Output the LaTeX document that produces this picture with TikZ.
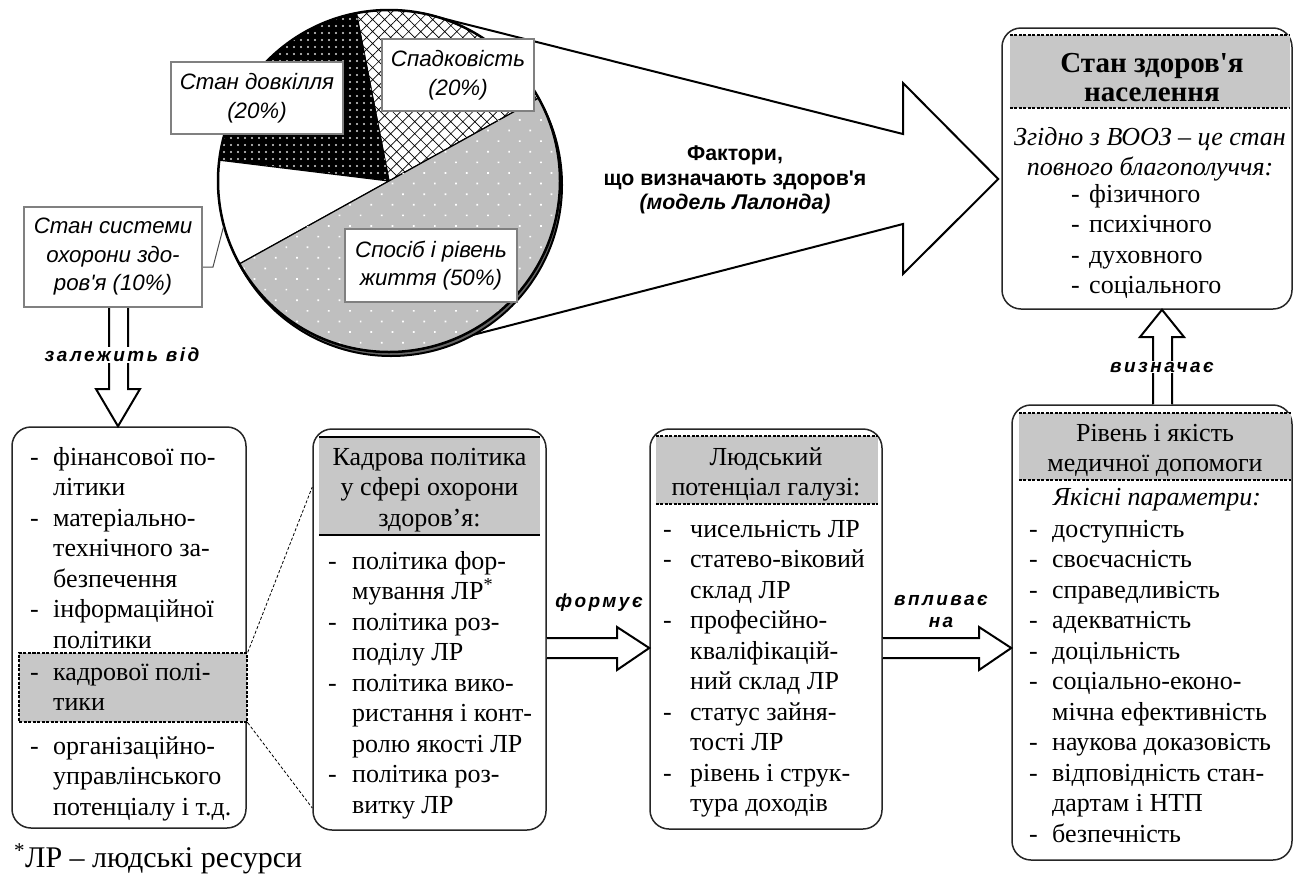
\documentclass[tikz,border=0pt]{standalone}
\usepackage{fontspec}
\setmainfont{Liberation Serif}
\setsansfont{Liberation Sans}
\newfontfamily\spaced[LetterSpace=13]{Liberation Sans}
\newfontfamily\factsans{Liberation Sans}
\newfontfamily\rmplain{Liberation Serif}
\usetikzlibrary{calc,patterns.meta}

\newcommand\boxfont{\fontsize{26}{30.5}\selectfont}
\newcommand\piefont{\fontsize{22.3}{28.5}\selectfont\sffamily\itshape}
\newcommand\verbfont{\fontsize{19}{22}\selectfont\spaced\bfseries\itshape}
\newcommand\factfont{\fontsize{21.3}{24.5}\selectfont\factsans\bfseries}
\newcommand\rmapos{{\rmplain'}}
\newcommand\sfapos{{\factsans'}}

\tikzset{box/.style = {draw=black!85, line width=1.5pt, rounded corners=19pt, fill=white},
         plab/.style = {draw=black!50, line width=2pt, fill=white, align=center, font=\piefont, inner sep=0pt},
         lst/.style = {anchor=base west, inner sep=0pt, font=\boxfont},
         hdr/.style = {anchor=base, inner sep=0pt, font=\boxfont},
         band/.style = {fill=black!22, inner sep=0pt},
         dotl/.style = {line width=1.5pt, dash pattern=on 3pt off 1.5pt},
         blk/.style = {draw=black, line width=2pt, fill=white, line join=miter},
         vlab/.style = {font=\verbfont, fill=white, inner sep=1pt}}

\begin{document}
\begin{tikzpicture}[x=1pt, y=-1pt]
  \useasboundingbox (0,0) rectangle (1295,873);

  % pie geometry
  \begin{scope}[shift={(389,181)}, y=1pt]
    \coordinate (pc) at (0,0);
    \coordinate (fu) at (78.6:171);
    \coordinate (fl) at (-69.4:171);
    \coordinate (sysp) at (195.6:172);
  \end{scope}

  % boxes
  \node[box, minimum width=290, minimum height=281] (stan) at (1147,168.5) {};
  \node[box, minimum width=234, minimum height=401] (fin) at (129,627.5) {};
  \node[box, minimum width=233, minimum height=401] (kadr) at (429.5,629.5) {};
  \node[box, minimum width=232, minimum height=400] (lyud) at (766,629) {};
  \node[box, minimum width=280, minimum height=455] (riv) at (1152,632.5) {};

  % big arrow of the factors
  \draw[blk] (fu) -- (903,134) -- (903,83) -- ($(stan.west |- 0,179)+(-3,0)$)
    -- (903,274) -- (903,224) -- (fl);
  \node[font=\factfont, align=center] (fak) at (735,180) {Фактори,\\що визначають здоров\sfapos я\\\textit{(модель Лалонда)}};

  % pie
  \begin{scope}[shift={(pc)}, y=1pt]
    \filldraw[fill=black!60, draw=black, line width=2pt] (2,-4) circle[radius=171];
    \filldraw[fill=white, line width=1.2pt, postaction={pattern={Hatch[angle=45, distance=8.5pt, line width=0.7pt]}}]
      (0,0) -- (29:171) arc[start angle=29, end angle=101, radius=171] -- cycle;
    \filldraw[fill=black, line width=1.2pt, postaction={pattern={Dots[distance=7pt, radius=1.1pt]}, pattern color=black!15}]
      (0,0) -- (101:171) arc[start angle=101, end angle=173, radius=171] -- cycle;
    \filldraw[fill=white, line width=1.2pt] (0,0) -- (173:171) arc[start angle=173, end angle=209, radius=171] -- cycle;
    \filldraw[fill=black!25, line width=1.2pt, postaction={pattern={Dots[distance=15pt, angle=45, radius=1.2pt]}, pattern color=white}]
      (0,0) -- (209:171) arc[start angle=209, end angle=389, radius=171] -- cycle;
    \draw[line width=2.5pt] (0,0) circle[radius=171];
  \end{scope}

  % pie labels
  \node[plab, minimum width=172, minimum height=72] (dovk) at (257,98) {Стан довкілля\\(20\%)};
  \node[plab, minimum width=152, minimum height=72] (spad) at (458,75) {Спадковість\\(20\%)};
  \node[plab, minimum width=172, minimum height=73] (sposib) at (431,265.5) {Спосіб і рівень\\життя (50\%)};
  \node[plab, minimum width=178, minimum height=100] (sys) at (113,257) {Стан системи\\охорони здо-\\ров{\itshape\sfapos}я (10\%)};
  \draw[line width=1pt, black!70] (sys.east |- 0,267) -- ++(10,0) -- (sysp);

  % health state box
  \node[band, minimum width=280, minimum height=73] (sh) at (1150,71.5) {};
  \draw[dotl] (sh.north west) -- (sh.north east);
  \draw[dotl] (sh.south west) -- (sh.south east);
  \node[hdr] (snt) at (1152,72) {\bfseries\fontsize{29}{29.5}\selectfont\begin{tabular}[t]{@{}c@{}}Стан здоров\rmapos я\\населення\end{tabular}};
  \node[hdr] (szg) at (1150,145) {\itshape\begin{tabular}[t]{@{}c@{}}Згідно з ВООЗ – це стан\\повного благополуччя:\end{tabular}};
  \node[lst] (sl) at (1071,202) {\begin{tabular}[t]{@{}p{18pt}@{}l@{}}-&фізичного\\-&психічного\\-&духовного\\-&соціального\end{tabular}};

  % left box
  \node[band, draw=black, dotl, minimum width=228, minimum height=69] (hl) at (133,687.5) {};
  \node[lst] (fa) at (30,465) {\begin{tabular}[t]{@{}p{23pt}@{}l@{}}-&фінансової по-\\&літики\\-&матеріально-\\&технічного за-\\&безпечення\\-&інформаційної\\&політики\end{tabular}};
  \node[lst] (fb) at (30,680) {\begin{tabular}[t]{@{}p{23pt}@{}l@{}}-&кадрової полі-\\&тики\end{tabular}};
  \node[lst] (fc) at (30,754) {\begin{tabular}[t]{@{}p{23pt}@{}l@{}}-&організаційно-\\&управлінського\\&потенціалу і т.д.\end{tabular}};
  \node[lst, font=\fontsize{30}{32}\selectfont] (note) at (14,867) {\textsuperscript{*}ЛР – людські ресурси};

  % staff policy box
  \node[band, minimum width=221, minimum height=98] (kh) at (429.5,486) {};
  \draw[line width=1.5pt] (kh.north west) -- (kh.north east);
  \draw[line width=2.2pt] (kh.south west) -- (kh.south east);
  \node[hdr] (kt) at (429.5,465) {\begin{tabular}[t]{@{}c@{}}Кадрова політика\\у сфері охорони\\здоров’я:\end{tabular}};
  \node[lst] (kl) at (328,569) {\begin{tabular}[t]{@{}p{24pt}@{}l@{}}-&політика фор-\\&мування ЛР\textsuperscript{*}\\-&політика роз-\\&поділу ЛР\\-&політика вико-\\&ристання і конт-\\&ролю якості ЛР\\-&політика роз-\\&витку ЛР\end{tabular}};
  \draw[densely dashed, line width=0.8pt] (hl.north east) -- (kadr.west |- 0,487);
  \draw[densely dashed, line width=0.8pt] (hl.south east) -- (kadr.west |- 0,808);

  % human potential box
  \node[band, minimum width=222, minimum height=68] (lh) at (767,470) {};
  \draw[dotl] (lh.north west) -- (lh.north east);
  \draw[dotl] (lh.south west) -- (lh.south east);
  \node[hdr] (lt) at (766,465) {\begin{tabular}[t]{@{}c@{}}Людський\\потенціал галузі:\end{tabular}};
  \node[lst] (ll) at (663,537) {\begin{tabular}[t]{@{}p{27pt}@{}l@{}}-&чисельність ЛР\\-&статево-віковий\\&склад ЛР\\-&професійно-\\&кваліфікацій-\\&ний склад ЛР\\-&статус зайня-\\&тості ЛР\\-&рівень і струк-\\&тура доходів\end{tabular}};

  % medical care box
  \node[band, minimum width=272, minimum height=67] (rh) at (1155,446.5) {};
  \draw[dotl] (rh.north west) -- (rh.north east);
  \draw[dotl] (rh.south west) -- (rh.south east);
  \node[hdr] (rt) at (1155,441) {\begin{tabular}[t]{@{}c@{}}Рівень і якість\\медичної допомоги\end{tabular}};
  \node[hdr] (rp) at (1157,505) {\itshape Якісні параметри:};
  \node[lst] (rl) at (1029,537) {\begin{tabular}[t]{@{}p{23pt}@{}l@{}}-&доступність\\-&своєчасність\\-&справедливість\\-&адекватність\\-&доцільність\\-&соціально-еконо-\\&мічна ефективність\\-&наукова доказовість\\-&відповідність стан-\\&дартам і НТП\\-&безпечність\end{tabular}};

  % block arrows
  \draw[blk] (sys.south -| 109,0) -- (109,389) -- (96,389) -- (fin.north -| 118,0)
    -- (140,389) -- (128,389) -- (sys.south -| 128,0);
  \node[vlab] (zal) at (122,355) {залежить від};
  \draw[blk] (riv.north -| 1153,0) -- (1153,337) -- (1140,337) -- (stan.south -| 1162,0)
    -- (1184,337) -- (1172,337) -- (riv.north -| 1172,0);
  \node[vlab] (viz) at (1162,367) {визначає};
  \draw[blk] (kadr.east |- 0,638) -- (617,638) -- (617,627) -- (lyud.west |- 0,648)
    -- (617,670) -- (617,658) -- (kadr.east |- 0,658);
  \node[vlab] (form) at (599,603) {формує};
  \draw[blk] (lyud.east |- 0,638) -- (979,638) -- (979,627) -- (riv.west |- 0,648)
    -- (979,670) -- (979,658) -- (lyud.east |- 0,658);
  \node[vlab, fill=none, align=center] (vpl) at (941,611) {впливає\\на};
\end{tikzpicture}
\end{document}
